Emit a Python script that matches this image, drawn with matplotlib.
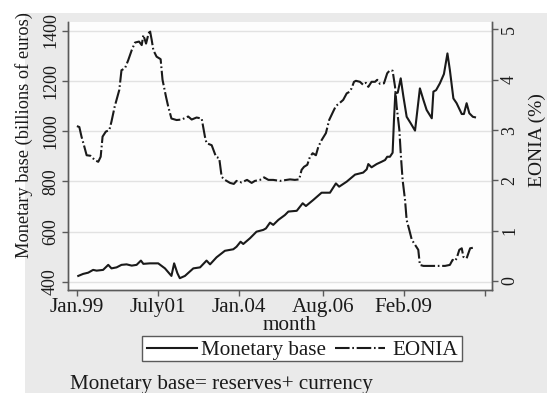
import matplotlib
matplotlib.use("Agg")
import matplotlib.pyplot as plt
from matplotlib.patches import Rectangle
from matplotlib.lines import Line2D

# Months counted from January 1999
eonia_month = [0, 0.9, 1.7, 2.6, 3.6, 5.0, 6.7, 7.9, 8.8, 9.5, 10.7, 12.0, 12.8, 14.0,
               15.7, 16.5, 17.8, 19.0, 20.3, 21.5, 23.0, 24.0, 24.6, 25.6, 26.4, 27.0,
               27.7, 28.3, 29.5, 31.0, 31.7, 33.0, 33.8, 35.0, 36.9, 38.8, 41.2, 42.5,
               44.3, 46.2, 47.4, 48.0, 49.9, 51.5, 52.7, 53.6, 54.8, 56.7, 58.1, 59.1,
               61.0, 63.0, 64.7, 65.9, 67.8, 69.3, 70.9, 72.7, 75.2, 78.9, 80.7, 82.3,
               83.2, 84.1, 85.3, 86.3, 87.3, 88.5, 89.4, 90.6, 92.2, 93.4, 94.9, 95.9,
               97.1, 98.6, 99.9, 100.9, 101.7, 102.6, 103.3, 104.8, 106.0, 107.0, 107.9,
               109.1, 110.4, 111.2, 112.2, 113.7, 114.9, 115.9, 116.9, 117.8, 118.4,
               119.4, 119.9, 120.6, 121.5, 122.1, 123.1, 124.0, 125.2, 126.4, 127.0,
               128.3, 130.1, 132.0, 133.8, 136.3, 138.1, 139.1, 140.0, 140.6, 141.6,
               142.5, 143.1, 144.3, 145.6, 146.6]
eonia_rate = [3.08, 3.06, 2.87, 2.70, 2.50, 2.49, 2.40, 2.37, 2.47, 2.87, 2.97, 3.00, 3.17,
              3.47, 3.80, 4.19, 4.23, 4.39, 4.59, 4.74, 4.76, 4.69, 4.89, 4.72, 4.89, 4.99,
              4.79, 4.59, 4.46, 4.41, 4.00, 3.66, 3.47, 3.23, 3.20, 3.21, 3.27, 3.21, 3.25,
              3.23, 2.87, 2.74, 2.70, 2.47, 2.44, 2.07, 2.01, 1.95, 1.93, 1.99, 1.96, 2.01,
              1.95, 1.99, 2.01, 2.06, 2.01, 2.01, 1.99, 2.02, 2.01, 2.02, 2.21, 2.27, 2.31,
              2.47, 2.54, 2.50, 2.67, 2.80, 2.94, 3.20, 3.37, 3.48, 3.53, 3.60, 3.73, 3.76,
              3.83, 3.96, 3.98, 3.96, 3.90, 3.94, 3.86, 3.96, 3.96, 4.00, 3.92, 3.93, 4.13,
              4.19, 4.18, 3.86, 3.47, 3.00, 2.54, 2.01, 1.61, 1.21, 1.01, 0.82, 0.72, 0.62,
              0.32, 0.30, 0.30, 0.30, 0.30, 0.30, 0.32, 0.42, 0.40, 0.45, 0.62, 0.65, 0.48,
              0.45, 0.65, 0.66]

base_month = [0.5, 2.3, 4.2, 6.0, 7.3, 9.7, 11.6, 12.8, 14.7, 16.5, 18.4, 20.3, 22.1, 23.7,
              24.6, 27.0, 30.1, 32.6, 35.0, 36.0, 37.2, 38.1, 40.0, 43.1, 45.6, 48.0, 49.3,
              51.7, 54.8, 57.9, 59.1, 60.6, 61.6, 64.1, 66.5, 69.0, 70.0, 71.5, 72.7, 74.6,
              77.0, 78.3, 81.4, 83.6, 84.8, 87.5, 90.6, 93.7, 95.9, 97.1, 99.9, 103.0,
              106.0, 107.3, 107.9, 109.1, 111.0, 112.8, 114.1, 114.9, 115.9, 116.9, 117.4,
              117.9, 118.8, 119.9, 120.9, 122.1, 123.6, 125.2, 127.0, 128.3, 129.5, 131.4,
              132.0, 133.0, 134.4, 135.9, 137.2, 138.1, 139.4, 140.6, 142.5, 143.3, 144.3,
              145.3, 146.6, 147.4]
base_value = [424, 432, 437, 448, 445, 448, 468, 454, 458, 468, 470, 465, 468, 485, 472, 474,
              474, 454, 424, 474, 435, 415, 424, 454, 458, 485, 470, 498, 524, 530, 540, 560,
              551, 574, 600, 607, 613, 636, 627, 647, 666, 680, 683, 713, 702, 726, 755, 755,
              792, 779, 799, 827, 835, 848, 869, 856, 869, 878, 885, 898, 898, 914, 1044,
              1150, 1153, 1210, 1137, 1057, 1031, 1002, 1170, 1124, 1084, 1051, 1157, 1163,
              1190, 1227, 1309, 1243, 1130, 1111, 1068, 1068, 1111, 1071, 1057, 1055]

x_ticks = [0, 30, 60, 91, 121, 151]
x_tick_labels = ["Jan.99", "July01", "Jan.04", "Aug.06", "Feb.09", ""]
left_ticks = [400, 600, 800, 1000, 1200, 1400]
right_ticks = [0, 1, 2, 3, 4, 5]

W, H = 547, 393
SERIF = "Liberation Serif"
INK = "#1a1a1a"
AXIS = "#5a5a5a"
BG = "#eaeaea"
DASHDOT = (0, (7, 1.3, 0.8, 1.3))
H_SIZE = 15.2   # horizontal text
V_SIZE = 13.0   # rotated tick labels

fig = plt.figure(figsize=(W / 100, H / 100), dpi=100, facecolor="white")


def fx(px):
    return px / W


def fy(py):
    return 1 - py / H


# grey graph region behind everything
fig.patches.append(Rectangle((fx(25), 0), 1 - fx(25), fy(13), transform=fig.transFigure,
                             facecolor=BG, edgecolor="none", zorder=-10))

ax = fig.add_axes([fx(68), fy(290), fx(492) - fx(68), fy(22) - fy(290)])
ax.set_facecolor("#fdfdfd")
ax2 = ax.twinx()

ax.set_xlim(-3.3, 153.7)
ax.set_ylim(368, 1434)
ax2.set_ylim(-0.179, 5.149)

for y in left_ticks:
    ax.axhline(y, color="#e2e2e2", lw=1.0, zorder=0)

base_line, = ax.plot(base_month, base_value, color=INK, lw=1.5, zorder=3)
eonia_line, = ax2.plot(eonia_month, eonia_rate, color=INK, lw=1.5, linestyle=DASHDOT,
                       zorder=3)

for a in (ax, ax2):
    a.spines["top"].set_visible(False)
    for s in ("left", "right", "bottom"):
        a.spines[s].set_color(AXIS)
        a.spines[s].set_linewidth(1.0)

ax.set_xticks(x_ticks)
ax.set_xticklabels(x_tick_labels, fontfamily=SERIF, fontsize=H_SIZE)
ax.set_yticks(left_ticks)
ax.set_yticklabels([str(v) for v in left_ticks], fontfamily=SERIF, fontsize=V_SIZE,
                   rotation=90, va="center")
ax2.set_yticks(right_ticks)
ax2.set_yticklabels([str(v) for v in right_ticks], fontfamily=SERIF, fontsize=V_SIZE,
                    rotation=90, va="center")

ax.tick_params(axis="x", length=4, width=1, color=AXIS, pad=1.5, labelcolor=INK)
ax.tick_params(axis="y", length=4, width=1, color=AXIS, pad=2.5, labelcolor=INK)
ax2.tick_params(axis="y", length=4, width=1, color=AXIS, pad=2.5, labelcolor=INK)

fig.text(fx(24), fy(135), "Monetary base (billions of euros)", rotation=90,
         ha="center", va="center", fontfamily=SERIF, fontsize=13.2, color=INK)
fig.text(fx(537), fy(140), "EONIA (%)", rotation=90, ha="center", va="center",
         fontfamily=SERIF, fontsize=14.0, color=INK)
fig.text(fx(290), fy(325), "month", ha="center", va="center", fontfamily=SERIF,
         fontsize=H_SIZE, color=INK)

# legend box
fig.patches.append(Rectangle((fx(142), fy(361)), fx(462) - fx(142), fy(336) - fy(361),
                             transform=fig.transFigure, facecolor="white",
                             edgecolor=AXIS, lw=1.0, zorder=2))
fig.lines.append(Line2D([fx(147), fx(197)], [fy(348), fy(348)], transform=fig.transFigure,
                        color=INK, lw=1.5, zorder=3))
fig.text(fx(201), fy(348), "Monetary base", ha="left", va="center_baseline",
         fontfamily=SERIF, fontsize=H_SIZE, color=INK, zorder=3)
fig.lines.append(Line2D([fx(335), fx(385)], [fy(348), fy(348)], transform=fig.transFigure,
                        color=INK, lw=1.5, linestyle=DASHDOT, zorder=3))
fig.text(fx(392), fy(348), "EONIA", ha="left", va="center_baseline", fontfamily=SERIF,
         fontsize=H_SIZE, color=INK, zorder=3)

fig.text(fx(70), fy(382), "Monetary base= reserves+ currency", ha="left",
         va="center_baseline", fontfamily=SERIF, fontsize=H_SIZE, color=INK)

fig.savefig("out.png", dpi=100, facecolor="white")
